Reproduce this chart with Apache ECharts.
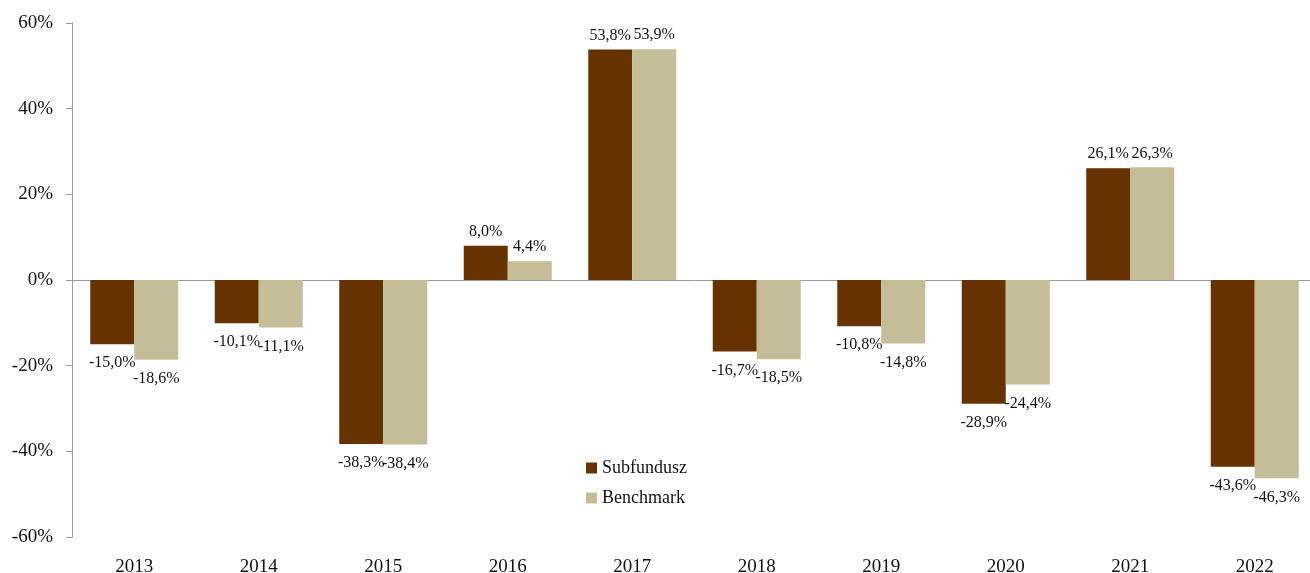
<!DOCTYPE html>
<html>
<head>
<meta charset="utf-8">
<script src="https://cdn.jsdelivr.net/npm/echarts@6/dist/echarts.min.js"></script>
<style>
  html, body { margin: 0; padding: 0; background: #fff; overflow: hidden; }
  #c { width: 1320px; height: 573px; }
</style>
</head>
<body>
<div id="c"></div>
<script>
  const years = ["2013", "2014", "2015", "2016", "2017", "2018", "2019", "2020", "2021", "2022"];
  const subfundusz = [-15.0, -10.1, -38.3, 8.0, 53.8, -16.7, -10.8, -28.9, 26.1, -43.6];
  const benchmark = [-18.6, -11.1, -38.4, 4.4, 53.9, -18.5, -14.8, -24.4, 26.3, -46.3];
  const FONT = "Liberation Serif";
  const pct = v => v.toFixed(1).replace(".", ",") + "%";

  // etykiety: nad słupkiem dla dodatnich, pod nim dla ujemnych
  const lbl = arr => arr.map(v => ({
    value: v,
    label: { show: true, position: v >= 0 ? "top" : "bottom", distance: v >= 0 ? 6 : 11, formatter: p => pct(p.value), fontFamily: FONT, fontSize: 16, color: "#111" }
  }));

  const chart = echarts.init(document.getElementById("c"));
  chart.setOption({
    animation: false,
    textStyle: { fontFamily: FONT },
    grid: { left: 72, top: 23, width: 1245, height: 514, containLabel: false, outerBoundsMode: "none" },
    legend: {
      orient: "vertical", left: 581, top: 454, itemWidth: 11, itemHeight: 11, itemGap: 12, icon: "rect",
      textStyle: { fontFamily: FONT, fontSize: 18, color: "#111" },
      data: ["Subfundusz", "Benchmark"]
    },
    xAxis: [
      {
        type: "category", data: years, position: "bottom",
        axisLine: { show: false, onZero: false }, axisTick: { show: false },
        axisLabel: { fontFamily: FONT, fontSize: 19, color: "#111", margin: 21 }
      },
      {
        type: "category", data: years, position: "top",
        axisLine: { onZero: true, onZeroAxisIndex: 0, lineStyle: { color: "#9a9a9a", width: 1 } },
        axisTick: { inside: true, length: 6, lineStyle: { color: "#9a9a9a" } },
        axisLabel: { show: false }
      }
    ],
    yAxis: {
      type: "value", min: -60, max: 60, interval: 20,
      axisLine: { show: true, lineStyle: { color: "#9a9a9a" } },
      axisTick: { show: true, length: 6, lineStyle: { color: "#9a9a9a" } },
      splitLine: { show: false },
      axisLabel: { formatter: v => v + "%", fontFamily: FONT, fontSize: 19, color: "#111", margin: 19 }
    },
    series: [
      { name: "Subfundusz", type: "bar", barWidth: 44, barGap: "0%", itemStyle: { color: "#663300" }, data: lbl(subfundusz) },
      { name: "Benchmark", type: "bar", barWidth: 44, barGap: "0%", itemStyle: { color: "#c4bd97" }, data: lbl(benchmark) }
    ]
  });
</script>
</body>
</html>
